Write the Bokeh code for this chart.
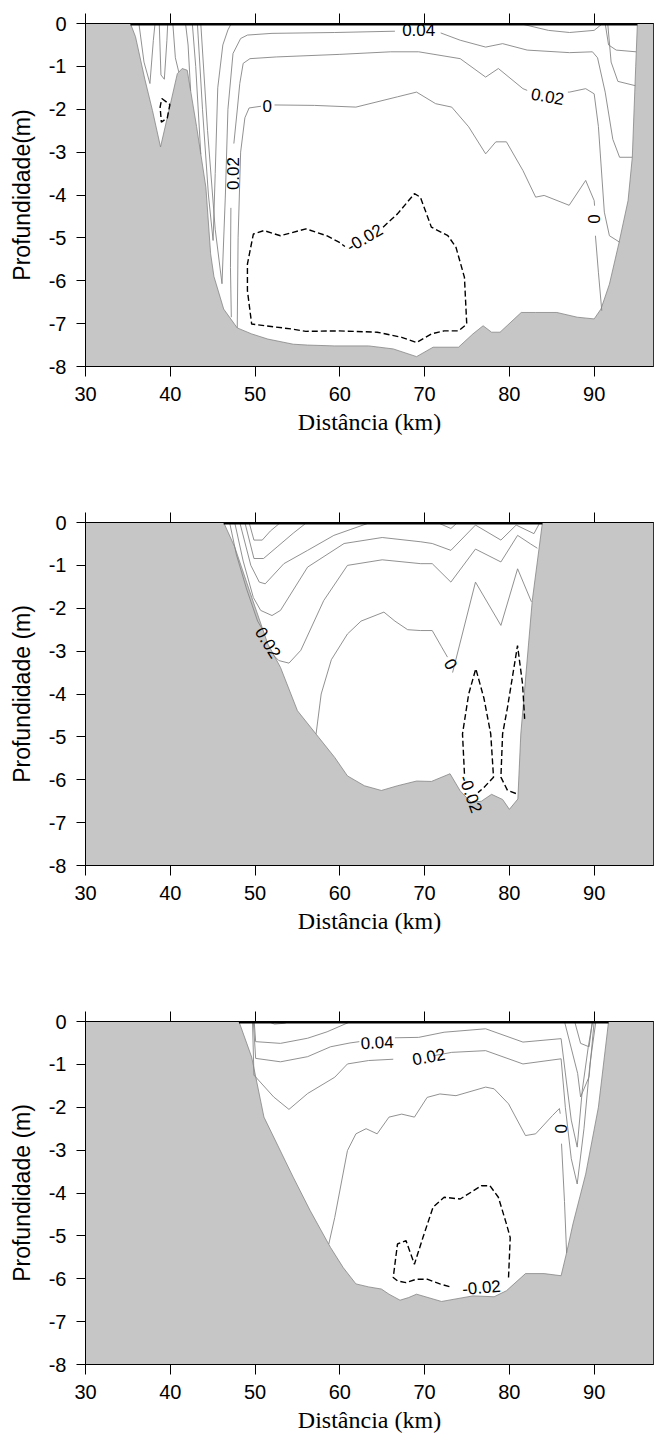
from bokeh.plotting import figure
from bokeh.models import Range1d, LinearAxis, FixedTicker
from bokeh.layouts import column
from bokeh.embed import file_html
from bokeh.resources import INLINE
from bokeh.core.properties import value

# ---------------- data ----------------
X_TICKS = [30, 40, 50, 60, 70, 80, 90]
Y_TICKS = [0, -1, -2, -3, -4, -5, -6, -7, -8]
Y_TICK_TEXT = ["0", "-1", "-2", "-3", "-4", "-5", "-6", "-7", "-8"]
X_LABEL = "Distância (km)"
Y_LABELS = ["Profundidade(m)", "Profundidade (m)", "Profundidade (m)"]

# Panel 1 -------------------------------------------------------------
P1_BED_X = [35.3, 35.9, 37.0, 37.9, 38.85, 39.84, 40.83, 41.4, 42.0, 43.1, 44.2, 44.76, 45.15, 46.3, 47.9,
            49.6, 51.5, 54.5, 56.2, 59.4, 63.4, 66.3, 69.05, 71.0, 74.0, 75.7, 76.9, 77.9, 78.9, 81.4,
            83.1, 85.6, 88.0, 90.0, 90.8, 91.8, 92.9, 94.0, 94.5, 94.9, 95.1]
P1_BED_Y = [0, -0.31, -1.3, -2.03, -2.88, -2.03, -1.17, -1.05, -1.09, -2.4, -3.82, -5.37, -5.9, -6.66, -7.1,
            -7.24, -7.36, -7.48, -7.5, -7.52, -7.52, -7.59, -7.77, -7.55, -7.55, -7.24, -7.05, -7.2, -7.2, -6.74,
            -6.74, -6.74, -6.85, -6.89, -6.66, -6.08, -5.14, -4.13, -3.12, -1.01, 0]
P1_SOLID = [
    ([36.3, 36.9, 37.6, 38.0, 38.2], [0, -0.9, -1.4, -0.4, 0]),
    ([38.7, 38.9, 39.3, 39.6, 39.7], [0, -1.2, -1.3, -0.4, 0]),
    ([40.3, 40.6, 41.0], [0, -0.8, -1.13]),
    ([41.8, 42.1, 42.4], [0, -0.5, -1.57]),
    ([42.6, 43.0, 43.6], [0, -1.0, -3.05]),
    ([43.2, 43.8, 44.5, 45.05, 45.3, 45.6, 46.2, 46.8, 47.2], [0, -2.0, -4.0, -5.06, -3.5, -1.5, -0.5, -0.15, 0]),
    ([43.6, 44.4, 45.3, 46.1, 46.5, 46.8, 47.4, 48.3, 49.1, 52.0, 59.4, 66.5],
     [0, -2.5, -4.8, -6.07, -4.0, -2.0, -0.7, -0.35, -0.27, -0.23, -0.21, -0.18]),
    ([71.9, 74.2, 77.2, 79.2, 82.1, 87.1, 89.8, 90.4, 91.3, 92.2, 93.0, 94.5],
     [-0.22, -0.39, -0.55, -0.47, -0.62, -0.68, -0.66, -0.8, -1.6, -2.7, -3.12, -3.12]),
    ([47.2, 47.1, 47.15], [-6.85, -5.69, -4.3]),
    ([47.5, 47.9, 48.2, 48.6, 49.4, 52.5, 60.0, 66.0, 69.3, 74.2, 77.2, 78.7, 81.6, 82.1],
     [-2.8, -2.02, -1.4, -0.93, -0.82, -0.78, -0.72, -0.66, -0.66, -0.82, -1.25, -1.05, -1.52, -1.56]),
    ([86.9, 87.1, 89.0, 90.0, 90.5, 91.2, 91.8, 93.0], [-1.6, -1.6, -1.52, -1.64, -2.4, -4.4, -4.95, -5.1]),
    ([47.9, 48.0, 48.3, 48.8, 49.3, 50.7], [-7.1, -5.0, -3.0, -2.2, -1.97, -1.93]),
    ([52.3, 57.0, 61.9, 66.8, 69.05, 71.3, 73.2, 75.2, 77.2, 78.4, 79.65, 81.6, 83.1, 84.1, 87.05, 89.0, 90.0, 90.05],
     [-1.9, -1.91, -1.95, -1.71, -1.6, -1.87, -1.95, -2.41, -3.04, -2.76, -2.76, -3.43, -4.05, -4.01, -4.24, -3.66, -4.13, -4.25]),
    ([90.15, 90.5, 90.9], [-4.95, -5.8, -6.7]),
    ([81.2, 84.6, 87.1, 90.0, 91.0], [0, -0.16, -0.21, -0.16, 0]),
    ([91.3, 91.7, 92.6, 94.95], [0, -0.5, -0.62, -0.66]),
    ([91.6, 92.0, 92.8, 94.85], [0, -0.9, -1.35, -1.45]),
]
P1_DASHED = [
    ([65.1, 66.8, 68.8, 69.5, 70.8, 72.75, 73.7, 74.7, 74.97, 74.0, 72.3, 70.8, 69.05, 67.3, 64.4, 59.9, 56.0,
      54.5, 49.6, 49.1, 49.1, 49.8, 51.05, 53.0, 56.0, 58.45, 59.9, 60.6],
     [-4.75, -4.44, -3.97, -4.05, -4.75, -4.95, -5.22, -5.92, -7.01, -7.17, -7.17, -7.24, -7.44, -7.32, -7.2, -7.17,
      -7.18, -7.13, -7.01, -6.23, -5.61, -4.91, -4.83, -4.95, -4.79, -4.95, -5.1, -5.2]),
    ([39.0, 39.95, 39.65, 38.95, 38.8, 39.0], [-1.75, -1.89, -2.2, -2.3, -1.95, -1.75]),
]
P1_LAB_TEXT = ["0.04", "0.02", "0", "0.02", "-0.02", "0"]
P1_LAB_X = [69.3, 84.5, 51.45, 47.35, 62.9, 90.0]
P1_LAB_Y = [-0.16, -1.7, -1.93, -3.5, -5.0, -4.56]
P1_LAB_ANGLE = [0, -10, 0, 90, 30, -90]

# Panel 2 -------------------------------------------------------------
P2_BED_X = [46.3, 47.6, 49.6, 51.5, 53.0, 55.0, 57.5, 59.4, 60.9, 62.9, 64.9, 66.8, 69.05, 70.8, 73.0, 74.2,
            75.5, 76.7, 77.9, 79.2, 80.0, 81.0, 81.35, 82.7, 83.9]
P2_BED_Y = [0, -0.57, -1.74, -2.83, -3.38, -4.39, -5.01, -5.48, -5.91, -6.14, -6.25, -6.14, -6.03, -6.04, -5.86,
            -6.26, -6.53, -6.5, -6.34, -6.46, -6.69, -6.45, -4.93, -1.82, 0]
P2_SOLID = [
    ([49.3, 49.87, 50.85, 51.8, 53.0], [0, -0.41, -0.41, -0.2, 0]),
    ([48.8, 49.87, 51.0, 52.6, 54.5, 56.1], [0, -0.84, -0.84, -0.57, -0.25, 0]),
    ([48.2, 49.5, 50.5, 51.2, 53.4, 56.2, 59.3, 61.3, 63.6], [0, -1.0, -1.39, -1.43, -0.96, -0.65, -0.3, -0.16, 0]),
    ([47.6, 48.6, 49.8, 50.66, 52.0, 53.0, 56.2, 60.5, 65.0, 69.55, 70.9, 73.1, 76.0, 79.0, 80.8, 82.9, 83.6],
     [0, -0.9, -1.75, -2.05, -2.17, -2.05, -1.04, -0.49, -0.35, -0.45, -0.49, -0.65, -0.06, -0.41, -0.06, -0.26, 0]),
    ([47.0, 47.8, 49.0, 50.3, 50.9], [0, -0.75, -1.55, -2.3, -2.5]),
    ([52.2, 52.8, 54.0, 55.4, 58.1, 60.9, 65.0, 69.55, 70.9, 73.1, 76.0, 79.0, 80.97, 82.5, 83.3],
     [-3.1, -3.22, -3.28, -2.98, -1.82, -1.0, -0.87, -0.96, -0.96, -1.39, -0.62, -0.92, -0.3, -0.5, -0.6]),
    ([57.2, 57.8, 59.0, 60.9, 62.5, 65.2, 66.5, 68.0, 69.5, 70.9, 72.0, 72.7],
     [-4.93, -4.0, -3.2, -2.6, -2.3, -2.09, -2.3, -2.5, -2.52, -2.52, -2.9, -3.14]),
    ([73.3, 76.0, 79.0, 80.97, 82.6], [-3.5, -1.39, -2.4, -1.08, -1.85]),
    ([71.5, 73.1, 73.9], [0, -0.14, 0]),
]
P2_DASHED = [
    ([74.7, 74.47, 75.2, 76.04, 77.0, 77.8, 78.13, 77.0, 76.3], [-5.86, -4.93, -4.0, -3.41, -4.1, -4.93, -5.94, -6.18, -6.3]),
    ([80.77, 79.78, 79.0, 79.2, 79.78, 80.96, 81.55, 81.8], [-6.32, -6.25, -5.94, -4.93, -4.31, -2.87, -3.76, -4.58]),
]
P2_LAB_TEXT = ["0.02", "0", "-0.02"]
P2_LAB_X = [51.55, 73.1, 75.45]
P2_LAB_Y = [-2.8, -3.3, -6.33]
P2_LAB_ANGLE = [-58, -60, -70]

# Panel 3 -------------------------------------------------------------
P3_BED_X = [48.1, 49.6, 51.05, 54.5, 56.5, 58.9, 60.4, 61.9, 63.4, 64.9, 65.8, 67.1, 68.1, 69.05, 72.0, 73.7,
            75.7, 78.2, 79.65, 81.9, 84.1, 86.1, 86.8, 87.5, 89.0, 90.5, 91.7]
P3_BED_Y = [0, -0.83, -2.23, -3.63, -4.41, -5.27, -5.74, -6.12, -6.19, -6.24, -6.36, -6.5, -6.44, -6.36, -6.53,
            -6.47, -6.4, -6.42, -6.28, -5.88, -5.88, -5.93, -5.35, -4.72, -3.56, -2.0, 0]
P3_SOLID = [
    ([51.5, 52.3, 53.5, 54.0], [0, -0.06, -0.04, 0]),
    ([49.9, 50.07, 53.0, 56.2, 58.5, 61.3], [0, -0.47, -0.51, -0.39, -0.24, 0]),
    ([49.8, 50.07, 53.0, 56.2, 58.9, 61.2, 62.3], [0, -0.86, -0.94, -0.82, -0.59, -0.5, -0.47]),
    ([66.5, 69.3, 72.3, 77.2, 81.6, 86.1, 86.6, 87.3, 88.0, 88.6, 89.3, 89.8],
     [-0.38, -0.37, -0.25, -0.17, -0.48, -0.4, -1.2, -2.3, -2.93, -1.6, -0.6, 0]),
    ([49.7, 49.87, 52.2, 54.0, 56.2, 59.4, 60.9, 63.4, 66.3], [0, -1.25, -1.76, -2.05, -1.68, -1.3, -0.99, -0.91, -0.88]),
    ([71.0, 73.2, 77.2, 81.6, 86.1, 86.6, 87.3, 88.0, 88.8, 89.5, 90.2],
     [-0.8, -0.72, -0.68, -0.99, -0.87, -2.0, -3.2, -3.79, -2.5, -1.0, 0]),
    ([58.7, 59.4, 60.9, 61.9, 63.1, 64.4, 65.8, 67.3, 68.8, 70.3, 71.8, 73.7, 77.2, 78.2, 79.9, 81.9, 83.1, 85.1, 85.9, 86.0],
     [-5.19, -4.57, -3.01, -2.62, -2.5, -2.62, -2.23, -2.16, -2.23, -1.77, -1.69, -1.73, -1.53, -1.57, -1.92, -2.66,
      -2.62, -2.19, -2.03, -2.15]),
    ([86.15, 86.5, 86.75], [-2.85, -4.2, -5.4]),
    ([86.5, 88.05, 88.4, 89.4, 90.0], [0, -1.21, -1.76, -1.29, 0]),
    ([87.7, 88.4, 89.4, 89.8], [0, -0.51, -0.59, 0]),
]
P3_DASHED = [
    ([79.9, 80.1, 79.65, 78.7, 77.7, 76.7, 74.2, 72.3, 71.0, 69.8, 68.8, 67.8, 66.8, 66.3, 66.8, 67.8, 69.05,
      70.3, 71.8, 73.2],
     [-5.97, -5.04, -4.72, -4.1, -3.83, -3.83, -4.14, -4.1, -4.33, -5.04, -5.66, -5.11, -5.19, -5.97, -6.05, -6.09,
      -6.01, -6.01, -6.12, -6.2]),
]
P3_LAB_TEXT = ["0.04", "0.02", "0", "-0.02"]
P3_LAB_X = [64.4, 70.5, 86.1, 76.7]
P3_LAB_Y = [-0.49, -0.82, -2.5, -6.2]
P3_LAB_ANGLE = [3, 10, -90, 5]

PANELS = [
    (P1_BED_X, P1_BED_Y, P1_SOLID, P1_DASHED, P1_LAB_TEXT, P1_LAB_X, P1_LAB_Y, P1_LAB_ANGLE),
    (P2_BED_X, P2_BED_Y, P2_SOLID, P2_DASHED, P2_LAB_TEXT, P2_LAB_X, P2_LAB_Y, P2_LAB_ANGLE),
    (P3_BED_X, P3_BED_Y, P3_SOLID, P3_DASHED, P3_LAB_TEXT, P3_LAB_X, P3_LAB_Y, P3_LAB_ANGLE),
]

# ---------------- style ----------------
SANS = "Liberation Sans"
SERIF = "Liberation Serif"
LAND = "#c6c6c6"
CONTOUR = "#858585"
HEIGHTS = [499, 499, 439]
BOTTOM_BORDERS = [133, 133, 73]


def style_axis(ax):
    ax.major_tick_in = 0
    ax.minor_tick_out = 0
    ax.minor_tick_in = 0
    ax.axis_line_color = "black"
    ax.major_tick_line_color = "black"


def make_panel(i):
    bx, by, solid, dashed, lt, lx, ly, la = PANELS[i]
    p = figure(width=655, height=HEIGHTS[i], x_range=Range1d(30, 97), y_range=Range1d(-8, 0),
               output_backend="svg", toolbar_location=None,
               min_border_left=85, min_border_right=2, min_border_top=23,
               min_border_bottom=BOTTOM_BORDERS[i])
    p.background_fill_color = "white"
    p.border_fill_color = "white"
    p.outline_line_color = "black"
    p.outline_line_width = 1
    p.xgrid.visible = False
    p.ygrid.visible = False

    # land (bathymetry)
    p.patch([30] + bx + [97, 97, 30], [0] + by + [0, -8, -8], fill_color=LAND, line_color=None)
    p.line(bx, by, line_color=CONTOUR, line_width=0.8)

    # contours
    p.multi_line([s[0] for s in solid], [s[1] for s in solid], line_color=CONTOUR, line_width=0.9)
    p.multi_line([d[0] for d in dashed], [d[1] for d in dashed], line_color="black", line_width=1.4,
                 line_dash="6 3")

    # water surface
    p.line([bx[0], bx[-1]], [0, 0], line_color="black", line_width=4)

    # contour labels
    p.text(x=lx, y=ly, text=lt, angle=la, angle_units="deg", text_align="center", text_baseline="middle",
           text_font=value(SANS), text_font_size="17px", text_color="black")

    # axes
    xa = p.xaxis[0]
    xa.ticker = FixedTicker(ticks=X_TICKS)
    xa.axis_label = X_LABEL
    xa.axis_label_text_font = SERIF
    xa.axis_label_text_font_size = "24px"
    xa.axis_label_text_font_style = "normal"
    xa.axis_label_text_color = "black"
    xa.axis_label_standoff = 5
    xa.major_label_text_font = SANS
    xa.major_label_text_font_size = "20px"
    xa.major_label_text_color = "black"
    xa.major_label_standoff = 10
    xa.major_tick_out = 10
    style_axis(xa)

    ya = p.yaxis[0]
    ya.ticker = FixedTicker(ticks=Y_TICKS)
    ya.major_label_overrides = {t: s for t, s in zip(Y_TICKS, Y_TICK_TEXT)}
    ya.axis_label = Y_LABELS[i]
    ya.axis_label_text_font = SANS
    ya.axis_label_text_font_size = "23px"
    ya.axis_label_text_font_style = "normal"
    ya.axis_label_text_color = "black"
    ya.axis_label_standoff = 11
    ya.major_label_text_font = SANS
    ya.major_label_text_font_size = "20px"
    ya.major_label_text_color = "black"
    ya.major_label_standoff = 10
    ya.major_tick_out = 9
    style_axis(ya)

    top = LinearAxis(ticker=FixedTicker(ticks=X_TICKS))
    top.major_label_text_font_size = "1px"
    top.major_label_text_color = None
    top.major_label_standoff = 0
    top.major_tick_out = 10
    style_axis(top)
    p.add_layout(top, "above")
    return p


layout = column(make_panel(0), make_panel(1), make_panel(2), spacing=0)
open("out.html", "w").write(file_html(layout, INLINE))
